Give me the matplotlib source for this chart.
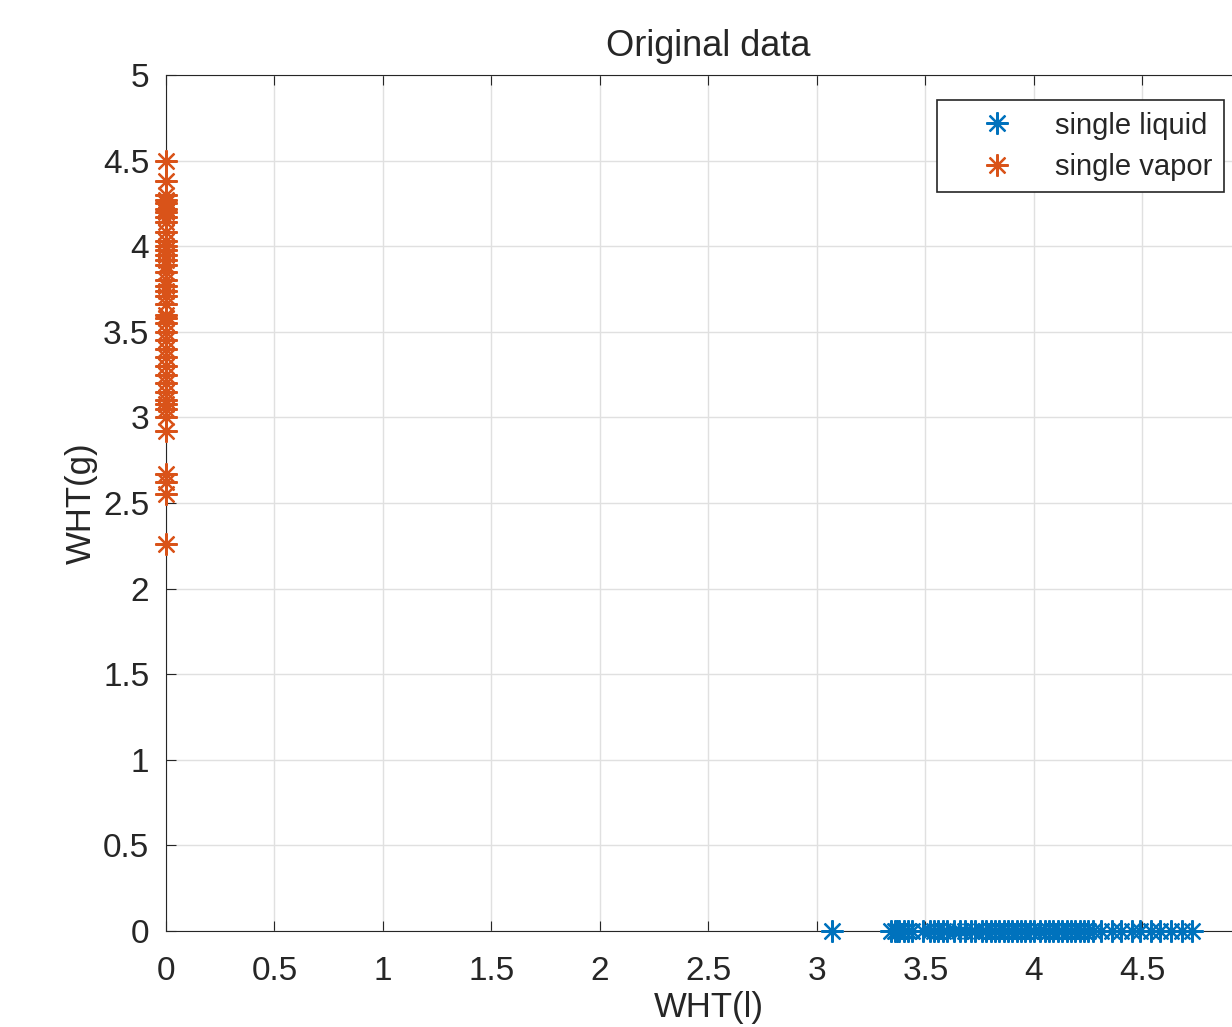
import matplotlib.pyplot as plt
import numpy as np

# WHT(l) values of the single liquid points (all at WHT(g) = 0)
liquid_x = [3.07, 3.34, 3.36, 3.37, 3.38, 3.40, 3.42, 3.44, 3.49, 3.52, 3.54,
            3.56, 3.58, 3.60, 3.63, 3.66, 3.68, 3.71, 3.73, 3.76, 3.78, 3.80,
            3.82, 3.84, 3.86, 3.88, 3.90, 3.92, 3.94, 3.96, 3.98, 4.00, 4.03,
            4.05, 4.07, 4.09, 4.11, 4.13, 4.15, 4.17, 4.19, 4.21, 4.23, 4.25,
            4.27, 4.31, 4.36, 4.40, 4.45, 4.49, 4.54, 4.58, 4.63, 4.68, 4.73]
liquid_y = [0.0] * len(liquid_x)

# WHT(g) values of the single vapor points (all at WHT(l) = 0)
vapor_y = [4.50, 4.38, 4.30, 4.27, 4.25, 4.22, 4.20, 4.17, 4.14, 4.08, 4.03,
           4.00, 3.98, 3.95, 3.92, 3.89, 3.85, 3.80, 3.77, 3.74, 3.71, 3.66,
           3.60, 3.58, 3.55, 3.50, 3.45, 3.40, 3.35, 3.30, 3.25, 3.20, 3.15,
           3.10, 3.08, 3.05, 3.00, 2.92, 2.67, 2.62, 2.55, 2.26]
vapor_x = [0.0] * len(vapor_y)

plt.rcParams['font.family'] = ['Liberation Sans', 'DejaVu Sans']

fig = plt.figure(figsize=(12.32, 10.27), dpi=100)
ax = fig.add_axes([0.1347, 0.0935, 0.8807, 0.8335])

# MATLAB style asterisk marker (plus and cross overlaid)
star = (8, 2, 0)
ax.plot(liquid_x, liquid_y, linestyle='none', marker=star, color='#0072BD',
        markersize=16, markeredgewidth=1.6, label='single liquid',
        clip_on=False, zorder=5)
ax.plot(vapor_x, vapor_y, linestyle='none', marker=star, color='#D95319',
        markersize=16, markeredgewidth=1.6, label='single vapor',
        clip_on=False, zorder=5)

ax.set_xlim(0, 5)
ax.set_ylim(0, 5)
ticks = np.arange(0, 5.01, 0.5)
labels = ['0', '0.5', '1', '1.5', '2', '2.5', '3', '3.5', '4', '4.5', '5']
ax.set_xticks(ticks)
ax.set_yticks(ticks)
ax.set_xticklabels(labels[:-1] + [''])
ax.set_yticklabels(labels)
ax.tick_params(direction='in', labelsize=24, length=7, colors='#262626',
               top=True, right=True)
ax.tick_params(axis='x', pad=18)
ax.tick_params(axis='y', pad=12)
ax.grid(True, color='#e0e0e0', linewidth=1)
ax.set_axisbelow(True)
for s in ax.spines.values():
    s.set_color('#262626')

ax.set_title('Original data', fontsize=26, color='#262626', pad=14)
ax.set_xlabel('WHT(l)', fontsize=25, color='#262626', labelpad=3)
ax.set_ylabel('WHT(g)', fontsize=25, color='#262626', labelpad=4)

leg = ax.legend(loc='upper left', bbox_to_anchor=(937 / 1232, 1 - 100 / 1027),
                bbox_transform=fig.transFigure, fontsize=21, fancybox=False,
                edgecolor='#262626', framealpha=1, borderpad=0.4,
                handletextpad=0.35, handlelength=3.3, labelspacing=0.45,
                borderaxespad=0)
leg.get_frame().set_linewidth(1.2)
for t in leg.get_texts():
    t.set_color('#262626')

fig.savefig('out.png', dpi=100)
